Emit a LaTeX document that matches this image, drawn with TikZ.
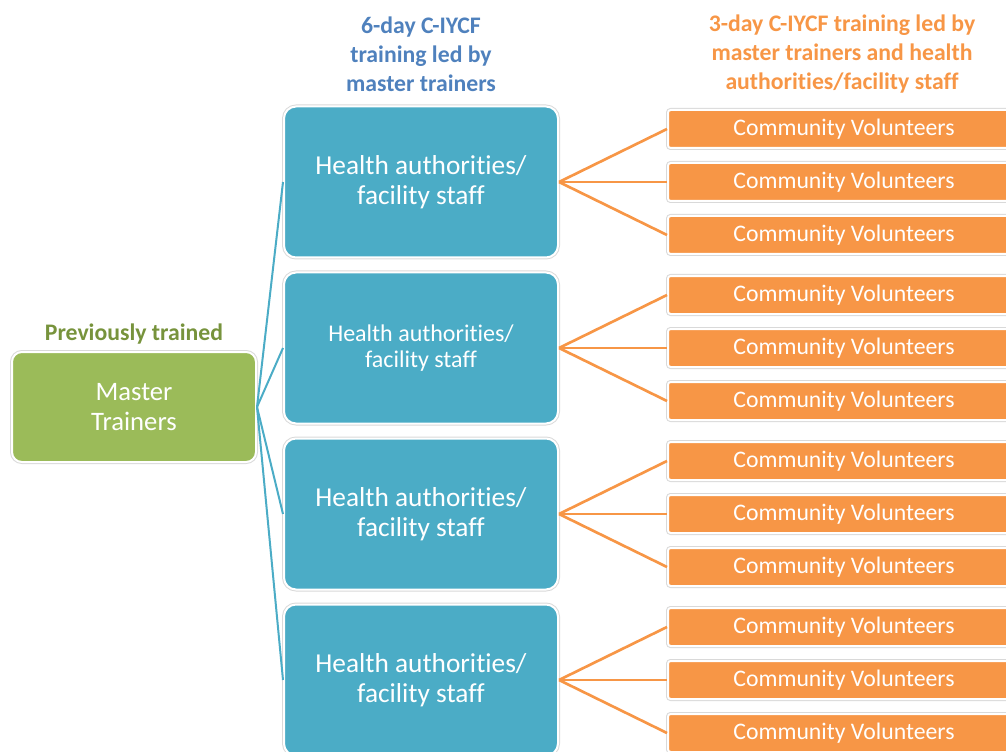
\documentclass[tikz,border=0pt]{standalone}
\usepackage{fontspec}
\setmainfont{Carlito}[Ligatures=NoCommon]
\usetikzlibrary{positioning}
\definecolor{mtgreen}{RGB}{155,187,89}
\definecolor{mtgreentxt}{RGB}{119,147,60}
\definecolor{hablue}{RGB}{75,172,198}
\definecolor{hdblue}{RGB}{79,129,189}
\definecolor{cvorange}{RGB}{247,150,70}
\tikzset{
  boxrim/.style={preaction={draw=black!15, line width=3pt}, draw=white, line width=1.5pt},
  mtbox/.style={boxrim, fill=mtgreen, rounded corners=7.5pt, minimum width=183pt,
    minimum height=82.5pt, inner sep=0pt, align=center, text=white,
    font=\fontsize{20}{22.5}\selectfont},
  habox/.style={boxrim, fill=hablue, rounded corners=9pt, minimum width=205.5pt,
    minimum height=113.25pt, inner sep=0pt, align=center, text=white},
  hatxt/.style={font=\fontsize{20.5}{22.5}\selectfont},
  hatxtsmall/.style={font=\fontsize{18}{20}\selectfont},
  cvbox/.style={boxrim, fill=cvorange, rounded corners=2pt, minimum width=264pt,
    minimum height=28.5pt, inner sep=0pt, text=white,
    font=\fontsize{17.8}{20}\selectfont},
  headtxt/.style={align=center, font=\fontsize{17.8}{21.75}\selectfont\bfseries},
  halink/.style={hablue, line width=1.5pt},
  cvlink/.style={cvorange, line width=2pt}
}
\begin{document}
\begin{tikzpicture}[x=0.75pt, y=-0.75pt]
\useasboundingbox (0,0) rectangle (1006,752);
\clip (0,0) rectangle (1006,752);
% Headings
\node[headtxt, text=hdblue] (sixday) at (421,54) {6-day C-IYCF\\training led by\\master trainers};
\node[headtxt, text=cvorange] (threeday) at (842,54) {3-day C-IYCF training led by\\master trainers and health\\authorities/facility staff};
% Master trainers
\node[mtbox] (mt) at (134,407) {Master\\Trainers};
\node[headtxt, text=mtgreentxt] (prev) at (134,334) {Previously trained};
% Health authorities / facility staff
\foreach \i/\sty in {1/hatxt, 2/hatxtsmall, 3/hatxt, 4/hatxt} {
  \node[habox, \sty] (ha\i) at (421,{16+166*\i}) {Health authorities/\\facility staff};
  \draw[halink] (mt.east) -- (ha\i.west);
}
% Community volunteers
\foreach \i in {1,...,4} {
  \foreach \j/\dy in {1/-53, 2/0, 3/53} {
    \node[cvbox] (cv\i\j) at (844,{16+166*\i+\dy}) {Community Volunteers};
    \draw[cvlink] (ha\i.east) -- (cv\i\j.west);
  }
}
\end{tikzpicture}
\end{document}
